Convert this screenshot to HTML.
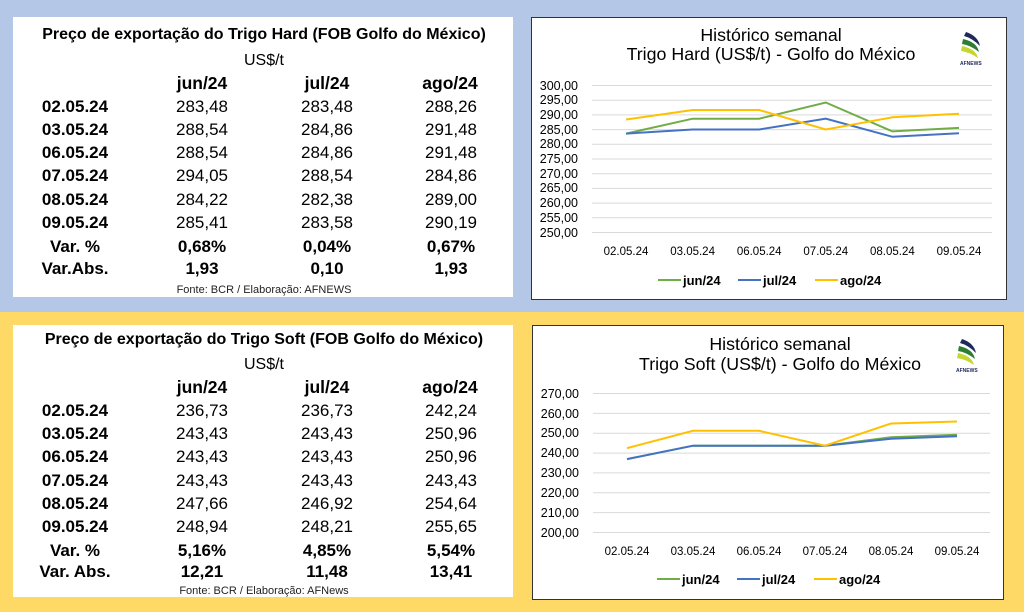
<!DOCTYPE html>
<html><head><meta charset="utf-8"><style>
html,body{margin:0;padding:0;background:#fff}
svg{display:block}
text{font-family:"Liberation Sans",Arial,sans-serif;fill:#000}
.t{font-weight:bold;font-size:16px}
.u{font-size:16px}
.h{font-weight:bold;font-size:17.5px}
.d{font-weight:bold;font-size:17px}
.v{font-size:17px}
.f{font-size:11px;fill:#222}
.ct{font-size:17.8px}
.yl{font-size:12.5px;fill:#444}
.xl{font-size:11.5px;fill:#444}
.lg{font-size:13px;font-weight:bold;fill:#444}
</style></head><body>
<svg width="1024" height="612" viewBox="0 0 1024 612" xmlns="http://www.w3.org/2000/svg">
<rect x="0" y="0" width="1024" height="312" fill="#b4c7e7"/>
<rect x="0" y="312" width="1024" height="300" fill="#ffd966"/>

<!-- Top table -->
<rect x="13" y="17" width="500" height="280" fill="#fff"/>
<g text-anchor="middle">
<text class="t" x="264" y="39">Preço de exportação do Trigo Hard (FOB Golfo do México)</text>
<text class="u" x="264" y="65">US$/t</text>
<text class="h" x="202" y="89">jun/24</text><text class="h" x="327" y="89">jul/24</text><text class="h" x="450" y="89">ago/24</text>
<g class="d"><text x="75" y="112">02.05.24</text><text x="75" y="135">03.05.24</text><text x="75" y="158">06.05.24</text><text x="75" y="181">07.05.24</text><text x="75" y="205">08.05.24</text><text x="75" y="228">09.05.24</text><text x="75" y="252">Var. %</text><text x="75" y="274">Var.Abs.</text></g>
<g class="v"><text x="202" y="112">283,48</text><text x="202" y="135">288,54</text><text x="202" y="158">288,54</text><text x="202" y="181">294,05</text><text x="202" y="205">284,22</text><text x="202" y="228">285,41</text>
<text x="327" y="112">283,48</text><text x="327" y="135">284,86</text><text x="327" y="158">284,86</text><text x="327" y="181">288,54</text><text x="327" y="205">282,38</text><text x="327" y="228">283,58</text>
<text x="451" y="112">288,26</text><text x="451" y="135">291,48</text><text x="451" y="158">291,48</text><text x="451" y="181">284,86</text><text x="451" y="205">289,00</text><text x="451" y="228">290,19</text></g>
<g class="d"><text x="202" y="252">0,68%</text><text x="327" y="252">0,04%</text><text x="451" y="252">0,67%</text><text x="202" y="274">1,93</text><text x="327" y="274">0,10</text><text x="451" y="274">1,93</text></g>
<text class="f" x="264" y="293">Fonte: BCR  / Elaboração: AFNEWS</text>
</g>

<!-- Bottom table -->
<rect x="13" y="325" width="500" height="272" fill="#fff"/>
<g text-anchor="middle">
<text class="t" x="264" y="344">Preço de exportação do Trigo Soft (FOB Golfo do México)</text>
<text class="u" x="264" y="369">US$/t</text>
<text class="h" x="202" y="393">jun/24</text><text class="h" x="327" y="393">jul/24</text><text class="h" x="450" y="393">ago/24</text>
<g class="d"><text x="75" y="416">02.05.24</text><text x="75" y="439">03.05.24</text><text x="75" y="462">06.05.24</text><text x="75" y="486">07.05.24</text><text x="75" y="509">08.05.24</text><text x="75" y="532">09.05.24</text><text x="75" y="556">Var. %</text><text x="75" y="577">Var. Abs.</text></g>
<g class="v"><text x="202" y="416">236,73</text><text x="202" y="439">243,43</text><text x="202" y="462">243,43</text><text x="202" y="486">243,43</text><text x="202" y="509">247,66</text><text x="202" y="532">248,94</text>
<text x="327" y="416">236,73</text><text x="327" y="439">243,43</text><text x="327" y="462">243,43</text><text x="327" y="486">243,43</text><text x="327" y="509">246,92</text><text x="327" y="532">248,21</text>
<text x="451" y="416">242,24</text><text x="451" y="439">250,96</text><text x="451" y="462">250,96</text><text x="451" y="486">243,43</text><text x="451" y="509">254,64</text><text x="451" y="532">255,65</text></g>
<g class="d"><text x="202" y="556">5,16%</text><text x="327" y="556">4,85%</text><text x="451" y="556">5,54%</text><text x="202" y="577">12,21</text><text x="327" y="577">11,48</text><text x="451" y="577">13,41</text></g>
<text class="f" x="264" y="594">Fonte: BCR / Elaboração: AFNews</text>
</g>

<!-- Top chart -->
<rect x="531.5" y="17.5" width="475" height="282" fill="#fff" stroke="#333" stroke-width="1"/>
<g text-anchor="middle"><text class="ct" x="771" y="41">Histórico semanal</text><text class="ct" x="771" y="60">Trigo Hard  (US$/t) - Golfo do México</text></g>
<g stroke="#d9d9d9" stroke-width="1">
<line x1="592" x2="992" y1="85.5" y2="85.5"/><line x1="592" x2="992" y1="100.2" y2="100.2"/><line x1="592" x2="992" y1="114.9" y2="114.9"/><line x1="592" x2="992" y1="129.6" y2="129.6"/><line x1="592" x2="992" y1="144.3" y2="144.3"/><line x1="592" x2="992" y1="159" y2="159"/><line x1="592" x2="992" y1="173.7" y2="173.7"/><line x1="592" x2="992" y1="188.4" y2="188.4"/><line x1="592" x2="992" y1="203.1" y2="203.1"/><line x1="592" x2="992" y1="217.8" y2="217.8"/><line x1="592" x2="992" y1="232.5" y2="232.5"/>
</g>
<g class="yl" text-anchor="end">
<text x="578" y="90">300,00</text><text x="578" y="104">295,00</text><text x="578" y="119">290,00</text><text x="578" y="134">285,00</text><text x="578" y="148">280,00</text><text x="578" y="163">275,00</text><text x="578" y="178">270,00</text><text x="578" y="192">265,00</text><text x="578" y="207">260,00</text><text x="578" y="222">255,00</text><text x="578" y="237">250,00</text>
</g>
<g class="xl" text-anchor="middle"><text x="626" y="255">02.05.24</text><text x="692.6" y="255">03.05.24</text><text x="759.2" y="255">06.05.24</text><text x="825.8" y="255">07.05.24</text><text x="892.4" y="255">08.05.24</text><text x="959" y="255">09.05.24</text></g>
<g fill="none" stroke-width="2">
<polyline stroke="#70ad47" points="626,133.6 692.6,118.7 759.2,118.7 825.8,102.5 892.4,131.4 959,127.9"/>
<polyline stroke="#4472c4" points="626,133.6 692.6,129.5 759.2,129.5 825.8,118.7 892.4,136.8 959,133.3"/>
<polyline stroke="#ffc000" points="626,119.5 692.6,110 759.2,110 825.8,129.5 892.4,117.3 959,113.8"/>
</g>
<g stroke-width="2"><line x1="658" x2="681" y1="280" y2="280" stroke="#70ad47"/><line x1="738" x2="761" y1="280" y2="280" stroke="#4472c4"/><line x1="815" x2="838" y1="280" y2="280" stroke="#ffc000"/></g>
<g class="lg"><text x="683" y="285">jun/24</text><text x="763" y="285">jul/24</text><text x="840" y="285">ago/24</text></g>
<g transform="translate(960,30)">
<path d="M6,2 Q18,6 20,16 Q12,8 4,6Z" fill="#1f2a5c"/>
<path d="M3,9 Q17,12 19,22 Q10,15 2,14Z" fill="#2e7d32"/>
<path d="M2,16 Q16,19 18,28 Q9,22 1,21Z" fill="#c6d631"/>
<text x="0" y="35" style="font-size:5px;font-weight:bold;fill:#1f2a5c">AFNEWS</text>
</g>

<!-- Bottom chart -->
<rect x="532.5" y="325.5" width="471" height="274" fill="#fff" stroke="#333" stroke-width="1"/>
<g text-anchor="middle"><text class="ct" x="780" y="350">Histórico semanal</text><text class="ct" x="780" y="370">Trigo Soft (US$/t) - Golfo do México</text></g>
<g stroke="#d9d9d9" stroke-width="1">
<line x1="593" x2="990" y1="393.5" y2="393.5"/><line x1="593" x2="990" y1="413.4" y2="413.4"/><line x1="593" x2="990" y1="433.2" y2="433.2"/><line x1="593" x2="990" y1="453.1" y2="453.1"/><line x1="593" x2="990" y1="472.9" y2="472.9"/><line x1="593" x2="990" y1="492.8" y2="492.8"/><line x1="593" x2="990" y1="512.6" y2="512.6"/><line x1="593" x2="990" y1="532.5" y2="532.5"/>
</g>
<g class="yl" text-anchor="end">
<text x="579" y="398">270,00</text><text x="579" y="418">260,00</text><text x="579" y="437">250,00</text><text x="579" y="457">240,00</text><text x="579" y="477">230,00</text><text x="579" y="497">220,00</text><text x="579" y="517">210,00</text><text x="579" y="537">200,00</text>
</g>
<g class="xl" text-anchor="middle"><text x="627" y="555">02.05.24</text><text x="693" y="555">03.05.24</text><text x="759" y="555">06.05.24</text><text x="825" y="555">07.05.24</text><text x="891" y="555">08.05.24</text><text x="957" y="555">09.05.24</text></g>
<g fill="none" stroke-width="2">
<polyline stroke="#70ad47" points="627,459.1 693,445.7 759,445.7 825,445.7 891,437.3 957,434.8"/>
<polyline stroke="#4472c4" points="627,459.1 693,445.7 759,445.7 825,445.7 891,438.8 957,436.3"/>
<polyline stroke="#ffc000" points="627,448.1 693,430.8 759,430.8 825,445.7 891,423.5 957,421.5"/>
</g>
<g stroke-width="2"><line x1="657" x2="680" y1="579" y2="579" stroke="#70ad47"/><line x1="737" x2="760" y1="579" y2="579" stroke="#4472c4"/><line x1="814" x2="837" y1="579" y2="579" stroke="#ffc000"/></g>
<g class="lg"><text x="682" y="584">jun/24</text><text x="762" y="584">jul/24</text><text x="839" y="584">ago/24</text></g>
<g transform="translate(956,337)">
<path d="M6,2 Q18,6 20,16 Q12,8 4,6Z" fill="#1f2a5c"/>
<path d="M3,9 Q17,12 19,22 Q10,15 2,14Z" fill="#2e7d32"/>
<path d="M2,16 Q16,19 18,28 Q9,22 1,21Z" fill="#c6d631"/>
<text x="0" y="35" style="font-size:5px;font-weight:bold;fill:#1f2a5c">AFNEWS</text>
</g>
</svg>
</body></html>
